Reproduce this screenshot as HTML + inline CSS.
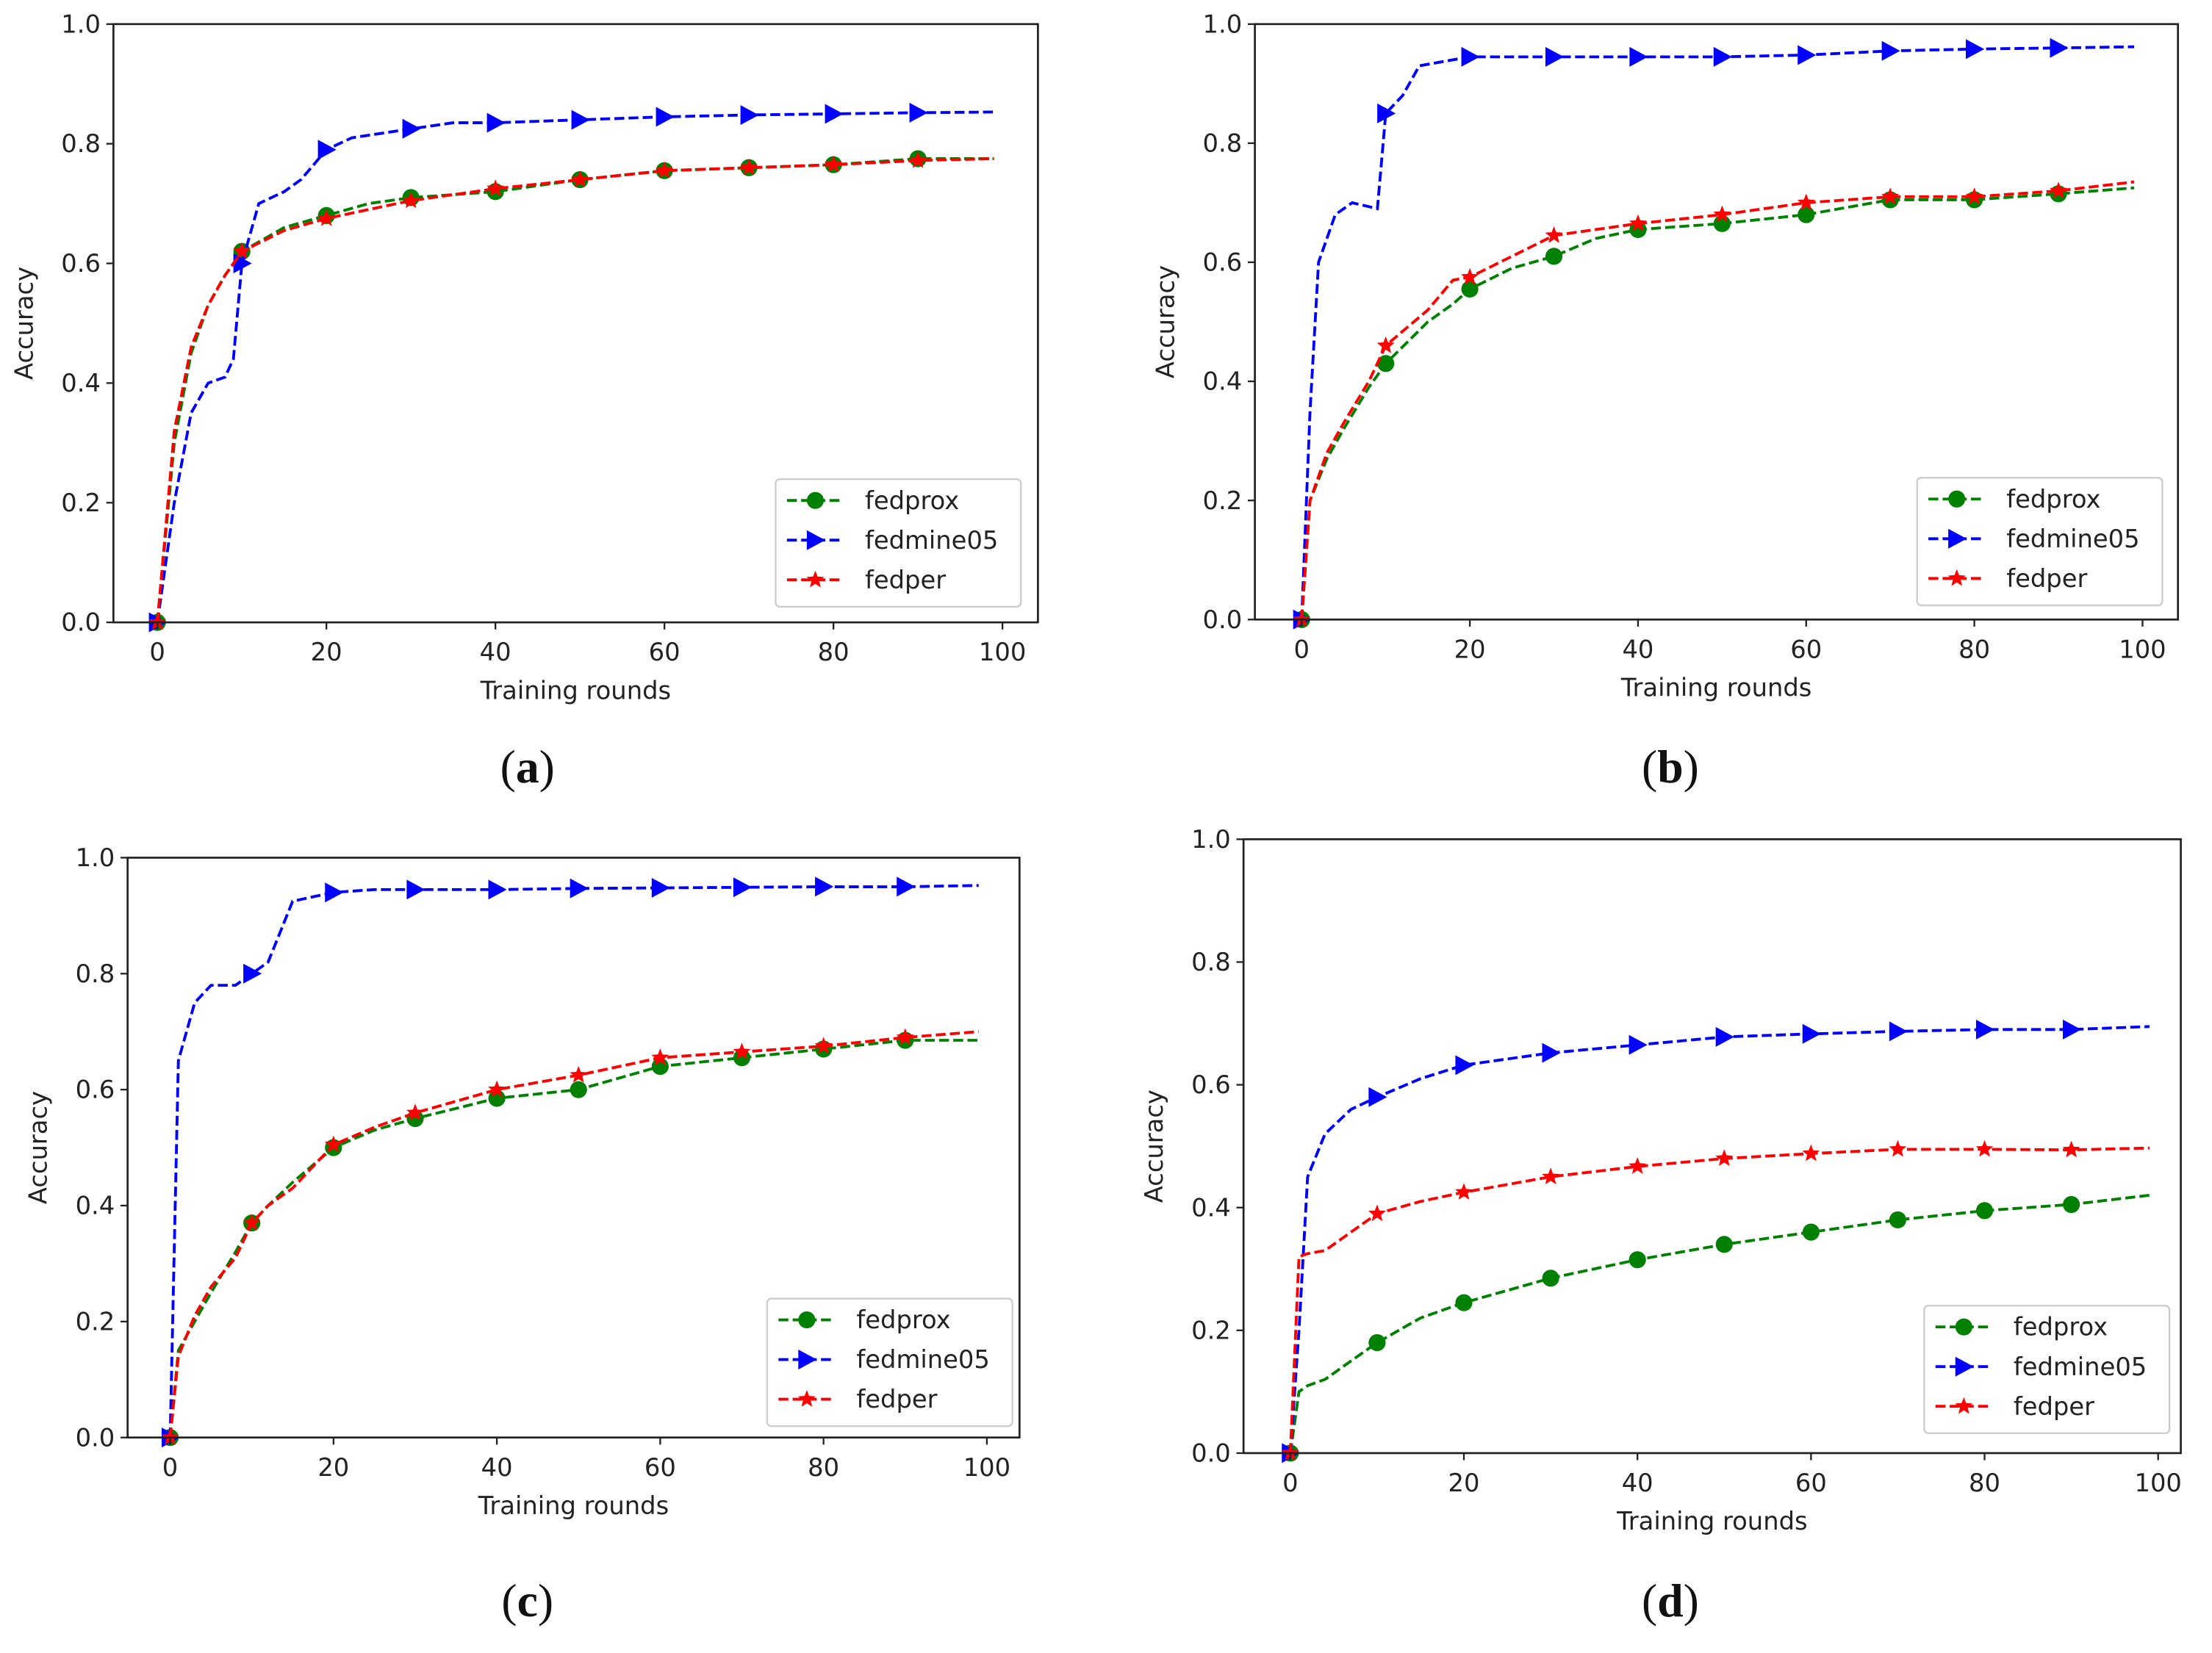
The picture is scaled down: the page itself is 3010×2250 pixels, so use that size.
<!DOCTYPE html>
<html><head><meta charset="utf-8"><style>
html,body{margin:0;padding:0;background:#fff;}
svg{display:block;}
</style></head><body>
<svg id="fig" xmlns="http://www.w3.org/2000/svg" width="3010" height="2250" viewBox="0 0 1560 1166" preserveAspectRatio="none">
<rect width="1560" height="1166" fill="#fff"/>
</svg>
<script>
// x samples (training rounds) and series values per panel
const xA = [0,2,4,6,8,10,15,20,25,30,35,40,50,60,70,80,90,99];
const proxA = [0,0.30,0.45,0.53,0.58,0.62,0.66,0.68,0.70,0.71,0.715,0.72,0.74,0.755,0.76,0.765,0.775,0.775];
const perA = [0,0.32,0.46,0.53,0.58,0.62,0.655,0.675,0.69,0.705,0.715,0.725,0.74,0.755,0.76,0.765,0.772,0.775];
const xAm = [0,2,4,6,8,9,10,12,15,17,20,23,30,35,40,50,60,70,80,90,99];
const mineA = [0,0.2,0.35,0.40,0.41,0.44,0.6,0.7,0.72,0.74,0.79,0.81,0.825,0.835,0.835,0.84,0.845,0.848,0.85,0.852,0.853];

const xB = [0,1,3,5,8,10,15,18,20,25,30,35,40,50,60,70,80,90,99];
const proxB = [0,0.2,0.27,0.32,0.39,0.43,0.5,0.53,0.555,0.59,0.61,0.64,0.655,0.665,0.68,0.705,0.705,0.715,0.725];
const perB = [0,0.2,0.28,0.33,0.4,0.46,0.52,0.57,0.575,0.61,0.645,0.655,0.665,0.68,0.70,0.71,0.71,0.72,0.735];
const xBm = [0,1,2,4,6,9,10,12,14,20,30,40,50,60,70,80,90,99];
const mineB = [0,0.35,0.6,0.68,0.7,0.69,0.85,0.88,0.93,0.945,0.945,0.945,0.945,0.948,0.955,0.958,0.96,0.962];

const xC = [0,1,3,5,8,10,12,15,20,25,30,40,50,60,70,80,90,99];
const proxC = [0,0.15,0.2,0.25,0.32,0.37,0.4,0.44,0.5,0.53,0.55,0.585,0.60,0.64,0.655,0.67,0.685,0.685];
const perC = [0,0.14,0.21,0.26,0.31,0.37,0.4,0.43,0.505,0.535,0.56,0.6,0.625,0.655,0.665,0.675,0.69,0.70];
const mineC = [0,0.65,0.75,0.78,0.78,0.80,0.82,0.925,0.94,0.945,0.945,0.945,0.947,0.948,0.949,0.95,0.95,0.952];

const xD = [0,1,2,4,7,10,15,20,30,40,50,60,70,80,90,99];
const proxD = [0,0.1,0.11,0.12,0.15,0.18,0.22,0.245,0.285,0.315,0.34,0.36,0.38,0.395,0.405,0.42];
const mineD = [0,0.2,0.45,0.52,0.56,0.58,0.61,0.632,0.652,0.665,0.678,0.683,0.687,0.69,0.69,0.695];
const perD = [0,0.32,0.325,0.33,0.36,0.39,0.41,0.425,0.45,0.467,0.48,0.488,0.495,0.495,0.494,0.497];

const xTicks = [0,20,40,60,80,100];
const yTicks = [0.0,0.2,0.4,0.6,0.8,1.0];
const seriesNames = ['fedprox','fedmine05','fedper'];
const colors = ['#008000','#0000ff','#ff0000'];

const NS='http://www.w3.org/2000/svg';
const svg=document.getElementById('fig');
function mk(tag,attrs,parent){const e=document.createElementNS(NS,tag);for(const k in attrs)e.setAttribute(k,attrs[k]);(parent||svg).appendChild(e);return e;}

function marker(kind,cx,cy,col,g){
  let m;
  if(kind===0){m=mk('circle',{cx:cx,cy:cy,r:6,fill:col},g);}
  else if(kind===1){m=mk('polygon',{points:`${cx-6},${cy-7} ${cx+7},${cy} ${cx-6},${cy+7}`,fill:col},g);}
  else{let p=[];for(let i=0;i<10;i++){const r=i%2?2.8:6.5;const a=-Math.PI/2+i*Math.PI/5;p.push((cx+r*Math.cos(a)).toFixed(1)+','+(cy+r*Math.sin(a)).toFixed(1));}
    m=mk('polygon',{points:p.join(' '),fill:col},g);}
  return m;
}

const panels=[
 {id:'a',L:80,R:732,T:17,B:439,x0:111,x100:707,lab:'(a)',lx:372,ly:556,leg:[547,338],series:[[xA,proxA],[xAm,mineA],[xA,perA]]},
 {id:'b',L:885,R:1536,T:17,B:437,x0:918,x100:1511,lab:'(b)',lx:1178,ly:556,leg:[1352,337],series:[[xB,proxB],[xBm,mineB],[xB,perB]]},
 {id:'c',L:90,R:719,T:605,B:1014,x0:120,x100:696,lab:'(c)',lx:372,ly:1144,leg:[541,916],series:[[xC,proxC],[xC,mineC],[xC,perC]]},
 {id:'d',L:877,R:1538,T:592,B:1025,x0:910,x100:1522,lab:'(d)',lx:1178,ly:1144,leg:[1357,921],series:[[xD,proxD],[xD,mineD],[xD,perD]]}
];

panels.forEach(p=>{
  const g=mk('g',{});
  
  
  const xs=v=>p.x0+(p.x100-p.x0)*v/100;
  const ys=v=>p.B-(p.B-p.T)*v;
  p.series.forEach((s,si)=>{
    const pts=s[0].map((x,i)=>xs(x).toFixed(1)+','+ys(s[1][i]).toFixed(1)).join(' ');
    const pl=mk('polyline',{points:pts,fill:'none',stroke:colors[si],'stroke-width':2,'stroke-dasharray':'7,3'},g);
    
    
    s[0].forEach((x,i)=>{ if(x%10===0 && x<=90){
      const m=marker(si,xs(x),ys(s[1][i]),colors[si],g);
      
      
    }});
  });
  const fr=mk('rect',{x:p.L,y:p.T,width:p.R-p.L,height:p.B-p.T,fill:'none',stroke:'#222','stroke-width':1.4},g);
  
  
  xTicks.forEach(t=>{
    const x=xs(t);
    mk('line',{x1:x,y1:p.B,x2:x,y2:p.B+5,stroke:'#222','stroke-width':1.2},g);
    const tx=mk('text',{x:x,y:p.B+27,'text-anchor':'middle','font-size':17.5,fill:'#222','font-family':'DejaVu Sans, Liberation Sans, sans-serif'},g);
    tx.textContent=t;
    
    
  });
  yTicks.forEach(t=>{
    const y=ys(t);
    mk('line',{x1:p.L-5,y1:y,x2:p.L,y2:y,stroke:'#222','stroke-width':1.2},g);
    const tx=mk('text',{x:p.L-9,y:y+6,'text-anchor':'end','font-size':17.5,fill:'#222','font-family':'DejaVu Sans, Liberation Sans, sans-serif'},g);
    tx.textContent=t.toFixed(1);
    
    
  });
  const xl=mk('text',{x:(p.L+p.R)/2,y:p.B+54,'text-anchor':'middle','font-size':17.5,fill:'#222','font-family':'DejaVu Sans, Liberation Sans, sans-serif'},g);
  xl.textContent='Training rounds';
  
  
  const yc=(p.T+p.B)/2, yx=p.L-57;
  const yl=mk('text',{x:yx,y:yc,'text-anchor':'middle','font-size':17.5,fill:'#222','font-family':'DejaVu Sans, Liberation Sans, sans-serif',transform:`rotate(-90 ${yx} ${yc})`},g);
  yl.textContent='Accuracy';
  
  
  const lg=mk('g',{},g);
  
  
  const [lx,ly]=p.leg;
  mk('rect',{x:lx,y:ly,width:173,height:90,rx:3,fill:'#fff',stroke:'#ccc','stroke-width':1.2},lg);
  seriesNames.forEach((n,i)=>{
    const y=ly+15+i*28;
    const e=mk('g',{},lg);
    
    
    mk('line',{x1:lx+8,y1:y,x2:lx+48,y2:y,stroke:colors[i],'stroke-width':2,'stroke-dasharray':'7,3'},e);
    marker(i,lx+28,y,colors[i],e);
    const t=mk('text',{x:lx+63,y:y+6,'font-size':17.5,fill:'#222','font-family':'DejaVu Sans, Liberation Sans, sans-serif'},e);
    t.textContent=n;
  });
  const cap=mk('text',{x:p.lx,y:p.ly-4,'text-anchor':'middle','font-size':33,fill:'#111','font-family':'Liberation Serif, serif'},g);
  cap.innerHTML='(<tspan font-weight="bold">'+p.lab.slice(1,2)+'</tspan>)';
  
  
});
</script>
</body></html>
